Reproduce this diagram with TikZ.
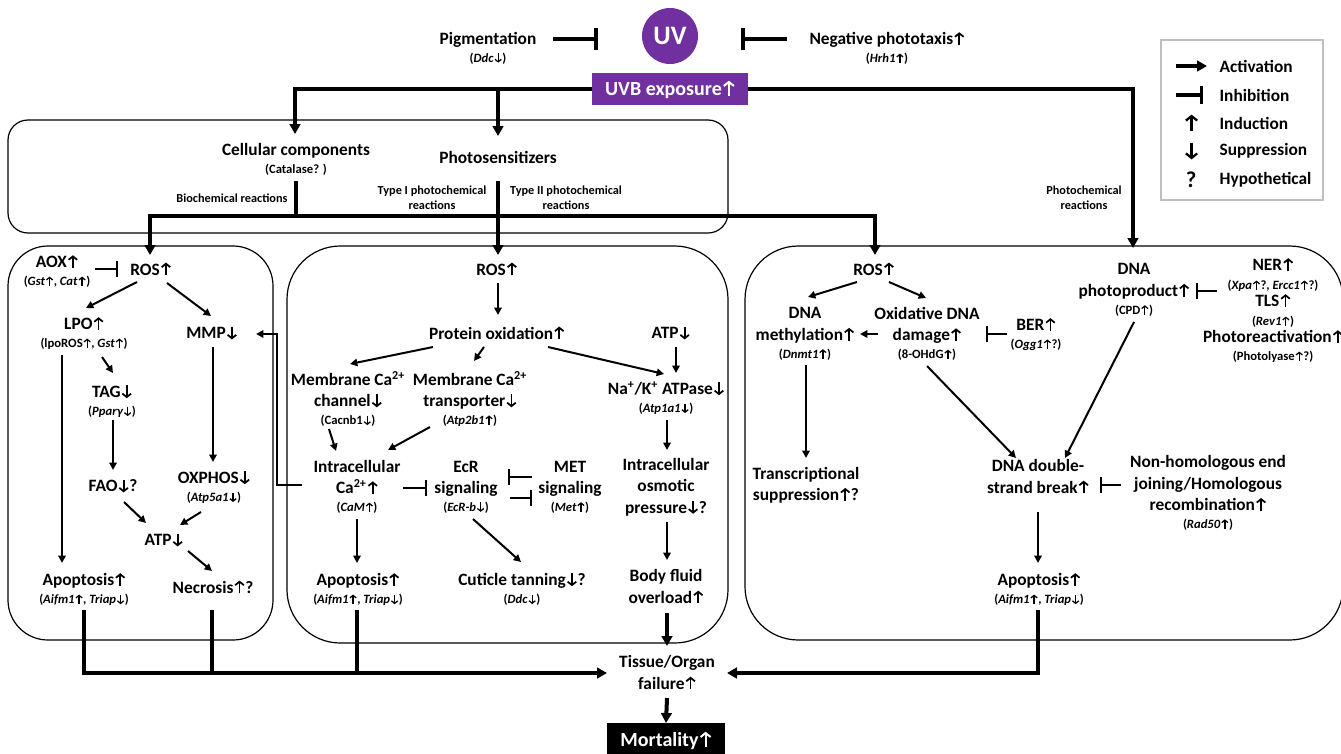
\documentclass[tikz,border=0pt]{standalone}
\usepackage{fontspec}
\setmainfont{Carlito}
\usepackage{tikz}
\usetikzlibrary{arrows.meta,positioning,calc}
\definecolor{uvpurple}{RGB}{112,48,160}
\definecolor{legendgray}{RGB}{191,191,191}
\newcommand{\UpA}{\hspace{0.05em}\tikz[baseline=0pt]\draw[line width=0.1em,-{Straight Barb[length=0.2em,width=0.5em]}] (0,-0.02em) -- (0,0.72em);\hspace{0.03em}}
\newcommand{\DnA}{\hspace{0.05em}\tikz[baseline=0pt]\draw[line width=0.1em,-{Straight Barb[length=0.2em,width=0.5em]}] (0,0.7em) -- (0,-0.04em);\hspace{0.03em}}
\newcommand{\gsz}{\fontsize{9.5}{11}\selectfont}
\tikzset{
  lbl/.style={font=\bfseries\fontsize{13}{16}\selectfont, align=center, inner sep=1pt},
  rxn/.style={font=\bfseries\fontsize{9.2}{11.2}\selectfont, align=center, inner sep=1pt},
  legtxt/.style={lbl, anchor=west},
  legsym/.style={font=\bfseries\fontsize{17}{20}\selectfont, inner sep=0pt},
  boxframe/.style={draw, line width=0.9pt, rounded corners=#1},
  act/.style={-{Triangle[length=5.5pt,width=5.5pt]}, line width=1.5pt},
  inh/.style={-{Bar[width=12pt]}, line width=1.8pt},
  bus/.style={line width=3pt},
  busarr/.style={bus, -{Triangle[length=7.5pt,width=8pt]}},
  businh/.style={bus, -{Bar[width=17pt]}},
  uvdot/.style={circle, fill=uvpurple, text=white, minimum size=42pt, inner sep=0pt,
    font=\bfseries\fontsize{20}{24}\selectfont},
  uvbox/.style={fill=uvpurple, text=white, minimum width=117pt, minimum height=24pt,
    font=\bfseries\fontsize{15}{18}\selectfont},
  mortbox/.style={fill=black, text=white, minimum width=88.5pt, minimum height=25pt,
    font=\bfseries\fontsize{15}{18}\selectfont}
}

\begin{document}
\begin{tikzpicture}[x=0.75pt,y=-0.75pt]
    \useasboundingbox (0,0) rectangle (1341,753);
    \clip (0,0) rectangle (1341,753);

    % Source
    \node[uvdot] (uv) at (670,36) {UV};
    \node[lbl] (pigm) at (488,48) {Pigmentation\\[-2.5pt]{\gsz(\textit{Ddc}\DnA)}};
    \node[lbl] (taxis) at (887,48) {Negative phototaxis\UpA\\[-2.5pt]{\gsz(\textit{Hrh1}\UpA)}};
    \node[uvbox] (uvb) at (670,89) {UVB exposure\UpA};

    % Frames
    \draw[boxframe=15pt] (8,120) rectangle (728,233);
    \draw[boxframe=30pt] (8,246) rectangle (273,640);
    \draw[boxframe=40pt] (287,246) rectangle (728,643);
    \draw[boxframe=40pt] (745,246) rectangle (1343,640);

    % Legend
    \draw[legendgray, line width=1.1pt] (1161,40) rectangle (1323,200);
    \node[legtxt] (lgact) at (1218,66) {Activation};
    \node[legtxt] (lginh) at (1218,95) {Inhibition};
    \node[legtxt] (lgind) at (1218,123) {Induction};
    \node[legtxt] (lgsup) at (1218,151) {Suppression};
    \node[legtxt] (lghyp) at (1218,180) {Hypothetical};
    \node[legsym] (symup) at (1191,123) {\UpA};
    \node[legsym] (symdn) at (1191,151) {\DnA};
    \node[legsym] (symq) at (1191,180) {?};
    \draw[busarr, line width=2.4pt] ($(lgact.west)+(-42,0)$) -- ($(lgact.west)+(-11,0)$);
    \draw[businh, line width=2.4pt, -{Bar[width=13pt]}] ($(lginh.west)+(-42,0)$) -- ($(lginh.west)+(-15,0)$);

    % Reaction sources
    \node[lbl] (cell) at (296,159) {Cellular components\\[-2.5pt]{\gsz(Catalase? )}};
    \node[lbl] (photo) at (498,157) {Photosensitizers};
    \node[rxn] (biochem) at (232,198) {Biochemical reactions};
    \node[rxn] (type1) at (432,198) {Type I photochemical\\reactions};
    \node[rxn] (type2) at (566,198) {Type II photochemical\\reactions};
    \node[rxn] (pchem) at (1084,198) {Photochemical\\reactions};

    % Left box: mitochondria / lipids
    \node[lbl] (aox) at (57,271) {AOX\UpA\\[-2.5pt]{\gsz(\textit{Gst}\UpA, \textit{Cat}\UpA)}};
    \node[lbl] (ros1) at (151,269) {ROS\UpA};
    \node[lbl] (lpo) at (84,333) {LPO\UpA\\[-2.5pt]{\gsz(lpoROS\UpA, \textit{Gst}\UpA)}};
    \node[lbl] (mmp) at (212,333) {MMP\DnA};
    \node[lbl] (tag) at (112,401) {TAG\DnA\\[-2.5pt]{\gsz(\textit{Pparγ}\DnA)}};
    \node[lbl] (fao) at (113,486) {FAO\DnA?};
    \node[lbl] (oxphos) at (214,487) {OXPHOS\DnA\\[-2.5pt]{\gsz(\textit{Atp5a1}\DnA)}};
    \node[lbl] (atp1) at (164,540) {ATP\DnA};
    \node[lbl] (apo1) at (84,589) {Apoptosis\UpA\\[-2.5pt]{\gsz(\textit{Aifm1}\UpA, \textit{Triap}\DnA)}};
    \node[lbl] (necro) at (213,587) {Necrosis\UpA?};

    % Middle box: proteins / calcium
    \node[lbl] (ros2) at (497,269) {ROS\UpA};
    \node[lbl] (protox) at (497,333) {Protein oxidation\UpA};
    \node[lbl] (atp2) at (671,333) {ATP\DnA};
    \node[lbl] (chan) at (348,399) {Membrane Ca\textsuperscript{2+}\\channel\DnA\\[-2.5pt]{\gsz(Cacnb1\DnA)}};
    \node[lbl] (trans) at (470,399) {Membrane Ca\textsuperscript{2+}\\transporter\DnA\\[-2.5pt]{\gsz(\textit{Atp2b1}\UpA)}};
    \node[lbl] (nak) at (666,398) {Na\textsuperscript{+}/K\textsuperscript{+} ATPase\DnA\\[-2.5pt]{\gsz(\textit{Atp1a1}\DnA)}};
    \node[lbl] (cal) at (357,487) {Intracellular\\Ca\textsuperscript{2+}\UpA\\[-2.5pt]{\gsz(\textit{CaM}\UpA)}};
    \node[lbl] (ecr) at (466,487) {EcR\\signaling\\[-2.5pt]{\gsz(\textit{EcR-b}\DnA)}};
    \node[lbl] (met) at (570,487) {MET\\signaling\\[-2.5pt]{\gsz(\textit{Met}\UpA)}};
    \node[lbl] (osm) at (666,487) {Intracellular\\osmotic\\pressure\DnA?};
    \node[lbl] (apo2) at (358,589) {Apoptosis\UpA\\[-2.5pt]{\gsz(\textit{Aifm1}\UpA, \textit{Triap}\DnA)}};
    \node[lbl] (cut) at (522,589) {Cuticle tanning\DnA?\\[-2.5pt]{\gsz(\textit{Ddc}\DnA)}};
    \node[lbl] (body) at (666,587) {Body fluid\\overload\UpA};

    % Right box: DNA
    \node[lbl] (ros3) at (874,269) {ROS\UpA};
    \node[lbl] (meth) at (805,334) {DNA\\methylation\UpA\\[-2.5pt]{\gsz(\textit{Dnmt1}\UpA)}};
    \node[lbl] (oxd) at (927,334) {Oxidative DNA\\damage\UpA\\[-2.5pt]{\gsz(8-OHdG\UpA)}};
    \node[lbl] (ber) at (1036,334) {BER\UpA\\[-2.5pt]{\gsz(\textit{Ogg1}\UpA?)}};
    \node[lbl] (dpp) at (1134,290) {DNA\\photoproduct\UpA\\[-2.5pt]{\gsz(CPD\UpA)}};
    \node[lbl] (ner) at (1273,310) {NER\UpA\\[-1.75pt]{\gsz(\textit{Xpa}\UpA?, \textit{Ercc1}\UpA?)}\\[-3.25pt]TLS\UpA\\[-1.75pt]{\gsz(\textit{Rev1}\UpA)}\\[-3.25pt]Photoreactivation\UpA\\[-2.5pt]{\gsz(Photolyase\UpA?)}};
    \node[lbl] (trs) at (806,485) {Transcriptional\\suppression\UpA?};
    \node[lbl] (dsb) at (1038,477) {DNA double-\\strand break\UpA};
    \node[lbl] (nhej) at (1208,493) {Non-homologous end\\joining/Homologous\\recombination\UpA\\[-2.5pt]{\gsz(\textit{Rad50}\UpA)}};
    \node[lbl] (apo3) at (1039,589) {Apoptosis\UpA\\[-2.5pt]{\gsz(\textit{Aifm1}\UpA, \textit{Triap}\DnA)}};

    % Outcome
    \node[lbl] (tissue) at (667,673) {Tissue/Organ\\failure\UpA};
    \node[mortbox] (mort) at (666,740) {Mortality\UpA};

    % UV flow
    \draw[businh] ($(pigm)+(65,-9)$) -- ($(uv)+(-72,3)$);
    \draw[businh] ($(taxis)+(-100,-9)$) -- ($(uv)+(71,3)$);
    \draw[busarr] (uvb.west) -| ($(cell)+(-1,-25)$);
    \draw[busarr] (uvb.east) -| ($(dpp)+(-1,-42)$);
    \draw[busarr] (photo |- uvb) -- ($(photo)+(0,-21)$);
    \coordinate (split) at ($(cell)+(0,57)$);
    \draw[bus] ($(cell)+(0,22)$) -- (split);
    \draw[busarr] (split) -| ($(ros1)+(-1,-14)$);
    \draw[busarr] (split) -| ($(ros3)+(1,-14)$);
    \draw[busarr] ($(photo)+(0,24)$) -- ($(ros2)+(1,-14)$);

    % Left box links
    \draw[inh] ($(aox)+(38,-2)$) -- ($(ros1)+(-33,0)$);
    \draw[act] ($(ros1)+(-14,13)$) -- ($(lpo)+(2,-25)$);
    \draw[act] ($(ros1)+(16,14)$) -- ($(mmp)+(-1,-17)$);
    \draw[act] ($(lpo)+(18,24)$) -- ($(tag)+(1,-28)$);
    \draw[act] ($(lpo)+(-22,22)$) -- ($(apo1)+(-22,-26)$);
    \draw[act] ($(tag)+(1,19)$) -- ($(fao)+(0,-16)$);
    \draw[act] ($(mmp)+(1,14)$) -- ($(oxphos)+(-1,-25)$);
    \draw[act] ($(fao)+(11,16)$) -- ($(atp1)+(-18,-17)$);
    \draw[act] ($(oxphos)+(-13,25)$) -- ($(atp1)+(16,-15)$);
    \draw[act] ($(atp1)+(24,11)$) -- ($(necro)+(-1,-16)$);
    \draw[act] ($(cal)+(-55,-2)$) -- ++(-25,0) |- ($(mmp)+(44,1)$);

    % Middle box links
    \draw[act] ($(ros2)+(1,14)$) -- ($(protox)+(1,-18)$);
    \draw[act] ($(protox)+(-64,14)$) -- ($(chan)+(2,-35)$);
    \draw[act] ($(protox)+(-13,14)$) -- ($(trans)+(4,-38)$);
    \draw[act] ($(protox)+(51,14)$) -- ($(nak)+(-2,-24)$);
    \draw[act] ($(atp2)+(5,14)$) -- ($(nak)+(10,-25)$);
    \draw[act] ($(chan)+(-19,30)$) -- ($(cal)+(-21,-36)$);
    \draw[act] ($(trans)+(-40,28)$) -- ($(cal)+(31,-37)$);
    \draw[act] ($(nak)+(1,22)$) -- ($(osm)+(1,-37)$);
    \draw[inh] ($(cal)+(46,1)$) -- ($(ecr)+(-39,1)$);
    \draw[inh] ($(met)+(-38,-10)$) -- ($(ecr)+(42,-10)$);
    \draw[inh] ($(ecr)+(44,11)$) -- ($(met)+(-38,11)$);
    \draw[act] ($(cal)+(0,32)$) -- ($(apo2)+(-1,-26)$);
    \draw[act] ($(ecr)+(7,32)$) -- ($(cut)+(-1,-27)$);
    \draw[act] ($(osm)+(1,35)$) -- ($(body)+(1,-27)$);

    % Right box links
    \draw[act] ($(ros3)+(-17,13)$) -- ($(meth)+(3,-37)$);
    \draw[act] ($(ros3)+(15,13)$) -- ($(oxd)+(-1,-36)$);
    \draw[act] ($(oxd)+(-49,0)$) -- ($(meth)+(55,0)$);
    \draw[inh] ($(ber)+(-29,0)$) -- ($(oxd)+(59,0)$);
    \draw[inh] ($(ner)+(-56,-19)$) -- ($(dpp)+(62,1)$);
    \draw[act] ($(oxd)+(0,32)$) -- ($(dsb)+(-22,-19)$);
    \draw[act] ($(dpp)+(0,32)$) -- ($(dsb)+(27,-19)$);
    \draw[act] ($(meth)+(1,31)$) -- ($(trs)+(0,-27)$);
    \draw[inh] ($(nhej)+(-87,-8)$) -- ($(dsb)+(62,8)$);
    \draw[act] ($(dsb)+(0,35)$) -- ($(apo3)+(-1,-26)$);

    % To organ failure and mortality
    \draw[busarr] ($(apo1)+(0,21)$) |- ($(tissue)+(-60,0)$);
    \draw[bus] ($(necro)+(-1,23)$) -- ++(0,63);
    \draw[bus] ($(apo2)+(-1,21)$) -- ++(0,63);
    \draw[busarr] ($(apo3)+(-1,21)$) |- ($(tissue)+(60,0)$);
    \draw[busarr] ($(body)+(1,26)$) -- ($(tissue)+(0,-27)$);
    \draw[busarr] ($(tissue)+(0,25)$) -- ($(mort)+(0,-17)$);

\end{tikzpicture}
\end{document}
